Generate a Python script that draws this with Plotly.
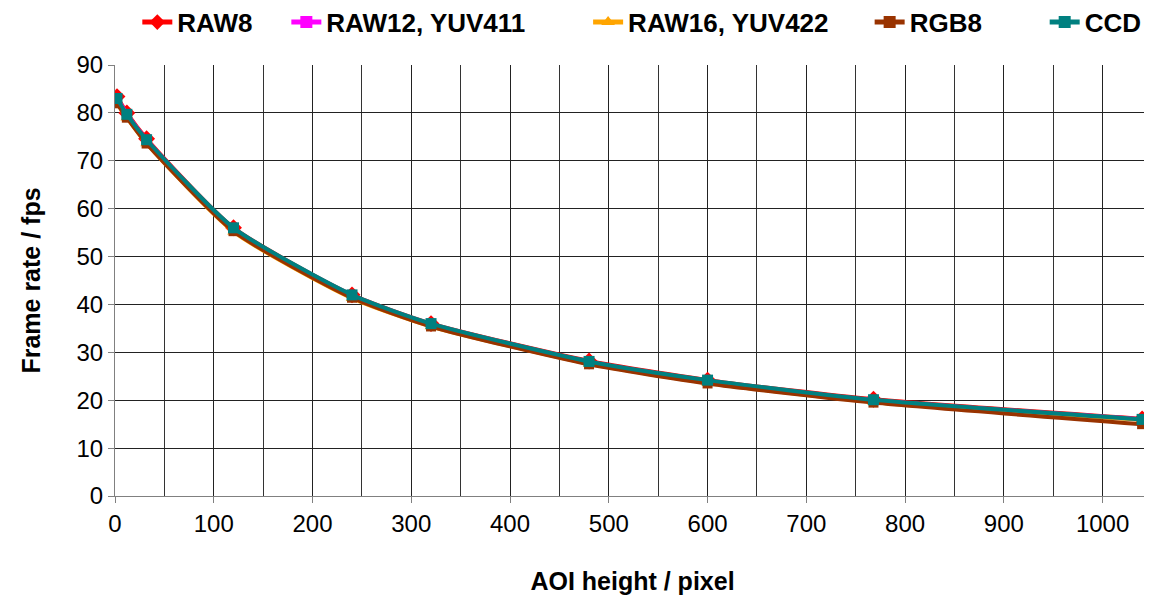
import plotly.graph_objects as go

# AOI height (pixel) and frame rates (fps) per pixel format
aoi_height = [2, 12, 32, 120, 240, 320, 480, 600, 768, 1040]

raw8 = [83.4, 80.0, 74.6, 56.0, 42.0, 36.0, 28.2, 24.2, 20.2, 16.1]
raw12_yuv411 = [83.2, 79.8, 74.4, 55.8, 41.9, 35.9, 28.0, 24.0, 20.0, 16.0]
raw16_yuv422 = [82.0, 79.0, 73.6, 55.2, 41.3, 35.4, 27.6, 23.6, 19.6, 15.9]
rgb8 = [82.0, 79.0, 73.6, 55.3, 41.4, 35.4, 27.5, 23.5, 19.5, 15.0]
ccd = [83.0, 79.7, 74.4, 56.0, 42.0, 36.0, 28.1, 24.2, 20.1, 16.0]

names = ["RAW8", "RAW12, YUV411", "RAW16, YUV422", "RGB8", "CCD"]
values = [raw8, raw12_yuv411, raw16_yuv422, rgb8, ccd]
colors = ["#ff0000", "#ff00ff", "#ffa500", "#993300", "#008080"]
symbols = ["diamond", "square", "triangle-up", "square", "square"]
sizes = [13, 9, 11, 10, 11]
# extra spacing after each legend entry, to spread them like the original
pads = [4, 8, 5, 8, 0]

fig = go.Figure()
for name, ys, col, sym, sz, pad in zip(names, values, colors, symbols, sizes, pads):
    fig.add_trace(go.Scatter(
        x=aoi_height, y=ys, name="<b>" + name + "</b>" + "\u00a0" * pad,
        mode="lines+markers",
        line=dict(color=col, width=4, shape="spline", smoothing=0.6),
        marker=dict(symbol=sym, size=sz, color=col),
    ))

fnt = "Liberation Sans, Arial"
axis_font = dict(family=fnt, size=24, color="black")
title_font = dict(family=fnt, size=25, color="black")

fig.update_layout(
    width=1144, height=591,
    paper_bgcolor="white", plot_bgcolor="white",
    margin=dict(l=107, r=2, t=57, b=103),
    font=dict(family=fnt),
    legend=dict(
        orientation="h", x=0.509, xanchor="center",
        yref="container", y=0.976, yanchor="middle",
        font=dict(family=fnt, size=26, color="black"),
        itemwidth=30, tracegroupgap=0, itemsizing="constant",
    ),
    xaxis=dict(
        range=[0, 1048], tickmode="array",
        tickvals=[0, 100, 200, 300, 400, 500, 600, 700, 800, 900, 1000],
        tickfont=axis_font, automargin=False,
        showgrid=True, gridcolor="#222222", gridwidth=1,
        minor=dict(dtick=50, showgrid=True, gridcolor="#333333", gridwidth=1),
        showline=True, linecolor="#808080", linewidth=1,
        ticks="outside", ticklen=6, tickcolor="#808080",
        zeroline=False,
        title=dict(text="<b>AOI height / pixel</b>", font=title_font, standoff=36),
    ),
    yaxis=dict(
        range=[0, 90], dtick=10,
        tickfont=axis_font, automargin=False,
        showgrid=True, gridcolor="#222222", gridwidth=1,
        showline=True, linecolor="#808080", linewidth=1,
        ticks="outside", ticklen=6, tickcolor="#808080",
        zeroline=False,
        title=dict(text="<b>Frame rate / fps</b>", font=title_font, standoff=28),
    ),
)

fig.write_html("out.html")
